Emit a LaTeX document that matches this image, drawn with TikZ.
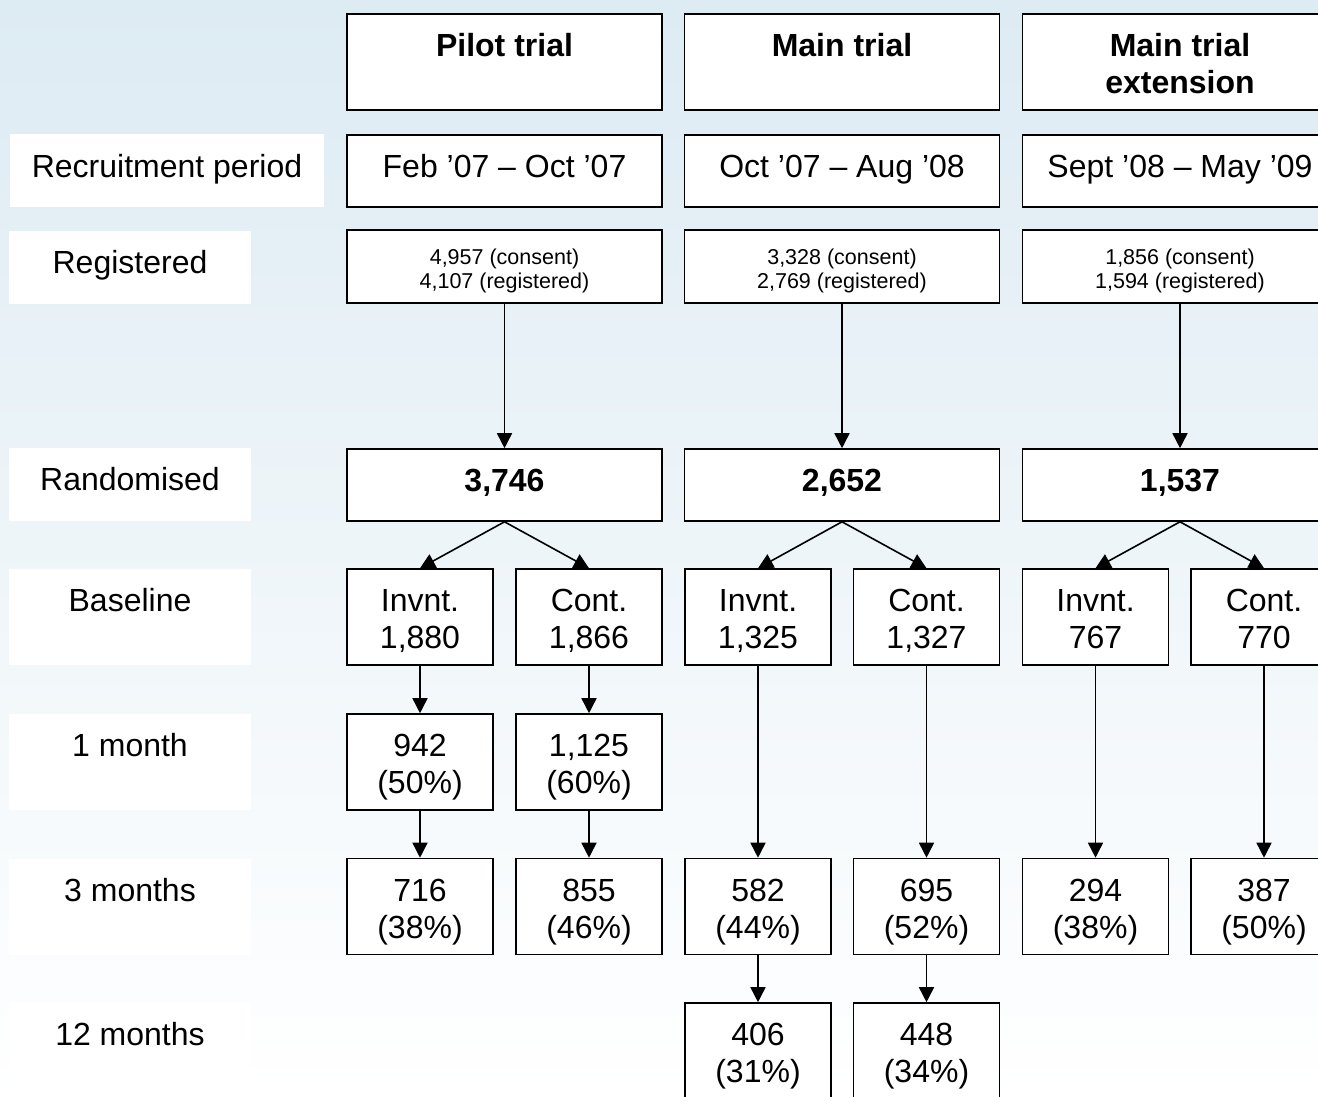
\documentclass[tikz,border=0pt]{standalone}
\usepackage{fontspec}
\setmainfont{Liberation Sans}
\usetikzlibrary{arrows.meta}
\definecolor{bgtop}{RGB}{221,235,243}
\newcommand{\fsbig}{\fontsize{32}{37}\selectfont}
\newcommand{\fssmall}{\fontsize{21.5}{24.5}\selectfont}
\newcommand{\onestrut}{\rule[-0.49em]{0pt}{1.416em}}
\tikzset{
  box/.style={draw=black, fill=white, line width=1.6pt, align=center, inner sep=0pt, font=\fsbig},
  wide/.style={box, minimum width=315pt},
  twoline/.style={text height=70.6pt, text depth=6.7pt},
  twosmall/.style={font=\fssmall, text height=48.9pt, text depth=4.5pt},
  half/.style={box, twoline, minimum width=146pt, minimum height=96pt},
  single/.style={execute at begin node=\onestrut},
  rowlabel/.style={fill=white, align=center, inner sep=0pt, font=\fsbig},
  flow/.style={-{Triangle[length=15pt,width=15pt]}, line width=1.6pt},
}

\begin{document}
\begin{tikzpicture}[x=1pt, y=-1pt]
      \useasboundingbox (0,0) rectangle (1318,1096);
      \clip (0,0) rectangle (1318,1096);
      \shade[top color=bgtop, middle color=bgtop!50!white, bottom color=white] (0,0) rectangle (1318,1096);

      \node[rowlabel, single, minimum width=314pt, minimum height=73pt] (lrec)  at (167,170.5) {Recruitment period};
      \node[rowlabel, single, minimum width=242pt, minimum height=73pt] (lreg)  at (130,267)   {Registered};
      \node[rowlabel, single, minimum width=242pt, minimum height=73pt] (lrand) at (130,484)   {Randomised};
      \node[rowlabel, twoline, minimum width=242pt, minimum height=96pt] (lbase)   at (130,617)   {Baseline\\\mbox{}};
      \node[rowlabel, twoline, minimum width=242pt, minimum height=96pt] (lone)    at (130,762)   {1 month\\\mbox{}};
      \node[rowlabel, twoline, minimum width=242pt, minimum height=96pt] (lthree)  at (130,906.5) {3 months\\\mbox{}};
      \node[rowlabel, twoline, minimum width=242pt, minimum height=96pt] (ltwelve) at (130,1051)  {12 months\\\mbox{}};

      \node[wide, twoline, minimum height=96pt, font=\fsbig\bfseries] (head1) at (504.5,62)    {Pilot trial\\\mbox{}};
      \node[wide, single, minimum height=72pt]                        (rec1)  at (504.5,171)   {Feb ’07 – Oct ’07};
      \node[wide, twosmall, minimum height=73pt]                      (reg1)  at (504.5,266.5) {4,957 (consent)\\4,107 (registered)};
      \node[wide, single, minimum height=72pt, font=\fsbig\bfseries]  (rand1) at (504.5,485)   {3,746};
      \node[half] (inv1)  at (420,617)   {Invnt.\\1,880};
      \node[half] (con1)  at (589,617)   {Cont.\\1,866};
      \node[half] (inv1a) at (420,762)   {942\\(50\%)};
      \node[half] (con1a) at (589,762)   {1,125\\(60\%)};
      \node[half] (inv1b) at (420,906.5) {716\\(38\%)};
      \node[half] (con1b) at (589,906.5) {855\\(46\%)};

      \node[wide, twoline, minimum height=96pt, font=\fsbig\bfseries] (head2) at (842,62)    {Main trial\\\mbox{}};
      \node[wide, single, minimum height=72pt]                        (rec2)  at (842,171)   {Oct ’07 – Aug ’08};
      \node[wide, twosmall, minimum height=73pt]                      (reg2)  at (842,266.5) {3,328 (consent)\\2,769 (registered)};
      \node[wide, single, minimum height=72pt, font=\fsbig\bfseries]  (rand2) at (842,485)   {2,652};
      \node[half] (inv2)  at (758,617)     {Invnt.\\1,325};
      \node[half] (con2)  at (926.5,617)   {Cont.\\1,327};
      \node[half] (inv2b) at (758,906.5)   {582\\(44\%)};
      \node[half] (con2b) at (926.5,906.5) {695\\(52\%)};
      \node[half] (inv2c) at (758,1051)    {406\\(31\%)};
      \node[half] (con2c) at (926.5,1051)  {448\\(34\%)};

      \node[wide, twoline, minimum height=96pt, font=\fsbig\bfseries] (head3) at (1180,62)    {Main trial\\extension};
      \node[wide, single, minimum height=72pt]                        (rec3)  at (1180,171)   {Sept ’08 – May ’09};
      \node[wide, twosmall, minimum height=73pt]                      (reg3)  at (1180,266.5) {1,856 (consent)\\1,594 (registered)};
      \node[wide, single, minimum height=72pt, font=\fsbig\bfseries]  (rand3) at (1180,485)   {1,537};
      \node[half] (inv3)  at (1095.5,617)   {Invnt.\\767};
      \node[half] (con3)  at (1264,617)     {Cont.\\770};
      \node[half] (inv3b) at (1095.5,906.5) {294\\(38\%)};
      \node[half] (con3b) at (1264,906.5)   {387\\(50\%)};

      \draw[flow] (reg1) -- (rand1);
      \draw[flow] (reg2) -- (rand2);
      \draw[flow] (reg3) -- (rand3);
      \draw[flow] (rand1.south) -- (inv1.north);
      \draw[flow] (rand1.south) -- (con1.north);
      \draw[flow] (rand2.south) -- (inv2.north);
      \draw[flow] (rand2.south) -- (con2.north);
      \draw[flow] (rand3.south) -- (inv3.north);
      \draw[flow] (rand3.south) -- (con3.north);
      \draw[flow] (inv1) -- (inv1a);
      \draw[flow] (con1) -- (con1a);
      \draw[flow] (inv1a) -- (inv1b);
      \draw[flow] (con1a) -- (con1b);
      \draw[flow] (inv2) -- (inv2b);
      \draw[flow] (con2) -- (con2b);
      \draw[flow] (inv2b) -- (inv2c);
      \draw[flow] (con2b) -- (con2c);
      \draw[flow] (inv3) -- (inv3b);
      \draw[flow] (con3) -- (con3b);
    \end{tikzpicture}
\end{document}
